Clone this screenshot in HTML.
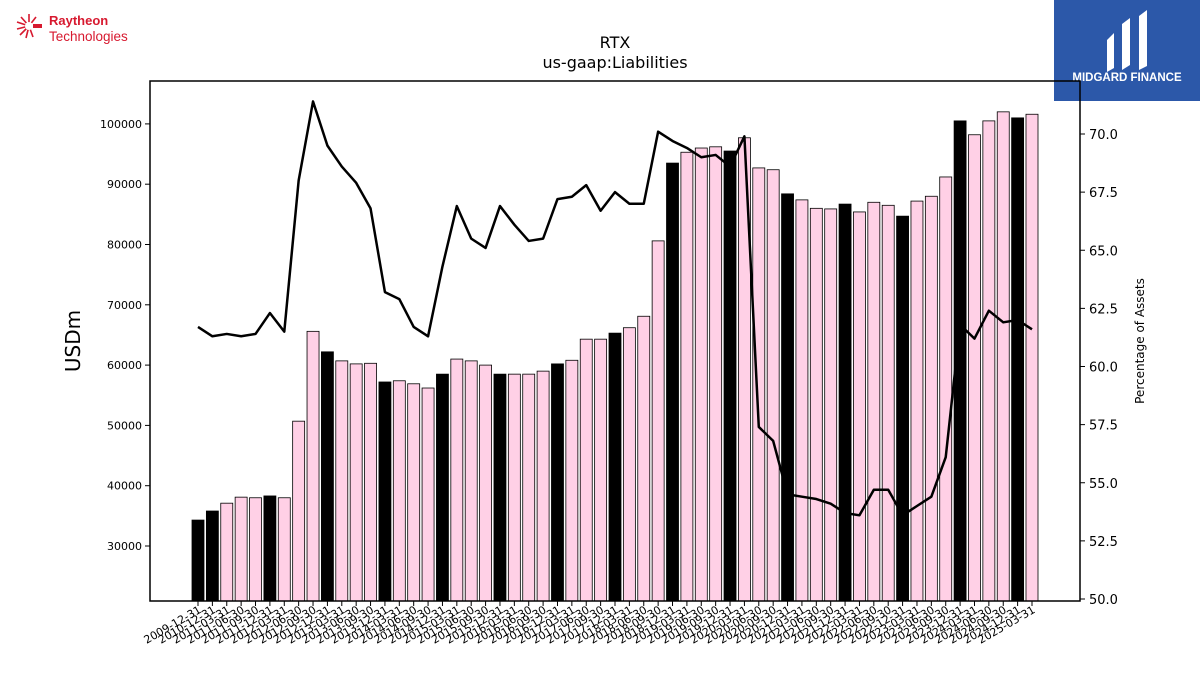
<!DOCTYPE html>
<html><head><meta charset="utf-8"><style>
body{margin:0;background:#fff;font-family:"Liberation Sans","DejaVu Sans",sans-serif;}
</style></head><body>
<svg width="1200" height="675" viewBox="0 0 1200 675" xmlns="http://www.w3.org/2000/svg" font-family="DejaVu Sans, Liberation Sans, sans-serif">
<g>
  <g stroke="#d7192f" stroke-width="1.6">
    <line x1="29" y1="26" x2="29" y2="14"/><line x1="29" y1="26" x2="21" y2="17"/><line x1="29" y1="26" x2="17" y2="22"/><line x1="29" y1="26" x2="17" y2="29"/><line x1="29" y1="26" x2="20" y2="35"/><line x1="29" y1="26" x2="26" y2="38"/><line x1="29" y1="26" x2="33" y2="37"/><line x1="29" y1="26" x2="36" y2="17"/>
  </g>
  <circle cx="29" cy="26" r="4" fill="#fff"/>
  <rect x="33" y="24" width="9" height="4" fill="#d7192f"/>
  <text x="49" y="25" font-size="13" font-weight="bold" fill="#d7192f" font-family="Liberation Sans, sans-serif">Raytheon</text>
  <text x="49" y="41" font-size="13.5" fill="#d7192f" font-family="Liberation Sans, sans-serif">Technologies</text>
</g>
<g>
  <rect x="1054" y="0" width="146" height="101" fill="#2c58a9"/>
  <path d="M1107 40 L1114 33 L1114 68 L1107 72 Z M1122 24 L1130 18 L1130 65 L1122 70 Z M1139 16 L1147 10 L1147 66 L1139 70 Z" fill="#fff"/>
  <text x="1127" y="81" font-size="11.5" font-weight="bold" fill="#fff" text-anchor="middle" font-family="Liberation Sans, sans-serif">MIDGARD FINANCE</text>
</g>
<text x="615" y="48" font-size="16" text-anchor="middle">RTX</text>
<text x="615" y="68" font-size="16" text-anchor="middle">us-gaap:Liabilities</text>
<g id="bars"></g>
<g id="line"></g>
<rect x="150" y="81" width="930" height="520" fill="none" stroke="#000" stroke-width="1.5"/>
<g id="yl"></g>
<g id="yr"></g>
<g id="xa"></g>
<text transform="translate(80,341) rotate(-90)" font-size="20" text-anchor="middle">USDm</text>
<text transform="translate(1144,341) rotate(-90)" font-size="12" text-anchor="middle">Percentage of Assets</text>
</svg>
<script>
const dates=["2009-12-31","2010-12-31","2011-03-31","2011-06-30","2011-09-30","2011-12-31","2012-03-31","2012-06-30","2012-09-30","2012-12-31","2013-03-31","2013-06-30","2013-09-30","2013-12-31","2014-03-31","2014-06-30","2014-09-30","2014-12-31","2015-03-31","2015-06-30","2015-09-30","2015-12-31","2016-03-31","2016-06-30","2016-09-30","2016-12-31","2017-03-31","2017-06-30","2017-09-30","2017-12-31","2018-03-31","2018-06-30","2018-09-30","2018-12-31","2019-03-31","2019-06-30","2019-09-30","2019-12-31","2020-03-31","2020-06-30","2020-09-30","2020-12-31","2021-03-31","2021-06-30","2021-09-30","2021-12-31","2022-03-31","2022-06-30","2022-09-30","2022-12-31","2023-03-31","2023-06-30","2023-09-30","2023-12-31","2024-03-31","2024-06-30","2024-09-30","2024-12-31","2025-03-31"];
const liabilities=[34300,35800,37100,38100,38000,38300,38000,50700,65600,62200,60700,60200,60300,57200,57400,56900,56200,58500,61000,60700,60000,58500,58500,58500,59000,60200,60800,64300,64300,65300,66200,68100,80600,93500,95300,96000,96200,95500,97700,92700,92400,88400,87400,86000,85900,86700,85400,87000,86500,84700,87200,88000,91200,100500,98200,100500,102000,101000,101600];
const pctAssets=[61.7,61.3,61.4,61.3,61.4,62.3,61.5,68.0,71.4,69.5,68.6,67.9,66.8,63.2,62.9,61.7,61.3,64.3,66.9,65.5,65.1,66.9,66.1,65.4,65.5,67.2,67.3,67.8,66.7,67.5,67.0,67.0,70.1,69.7,69.4,69.0,69.1,68.6,69.9,57.4,56.8,54.5,54.4,54.3,54.1,53.7,53.6,54.7,54.7,53.6,54.0,54.4,56.1,61.8,61.2,62.4,61.9,62.0,61.6];
const leftTicks=[30000,40000,50000,60000,70000,80000,90000,100000];
const rightTicks=[50.0,52.5,55.0,57.5,60.0,62.5,65.0,67.5,70.0];
const NS="http://www.w3.org/2000/svg";
const yL=v=>546-(v-30000)/10000*60.3;
const yR=v=>599-(v-50)*23.25;
const n=dates.length;
const xS=i=>198+i*(1032-198)/(n-1);
const bottom=601;
function mk(t,a,p){const e=document.createElementNS(NS,t);for(const k in a)e.setAttribute(k,a[k]);p.appendChild(e);return e;}
const bars=document.getElementById('bars');
dates.forEach((d,i)=>{
  const y=yL(liabilities[i]);
  const r=mk('rect',{x:xS(i)-6,y:y,width:12,height:bottom-y,fill:d.endsWith('12-31')?'#000':'#ffd0e6',stroke:'#000','stroke-width':0.8},bars);
  
  
});
const lg=document.getElementById('line');
const pl=mk('polyline',{points:pctAssets.map((v,i)=>xS(i)+','+yR(v)).join(' '),fill:'none',stroke:'#000','stroke-width':2.5,'stroke-linejoin':'round'},lg);


const yl=document.getElementById('yl');
leftTicks.forEach(v=>{const y=yL(v);mk('line',{x1:145,x2:150,y1:y,y2:y,stroke:'#000'},yl);
  const t=mk('text',{x:142,y:y+4,'font-size':11,'text-anchor':'end'},yl);t.textContent=v;
  
  });
const yr=document.getElementById('yr');
rightTicks.forEach(v=>{const y=yR(v);mk('line',{x1:1080,x2:1085,y1:y,y2:y,stroke:'#000'},yr);
  const t=mk('text',{x:1089,y:y+5,'font-size':13},yr);t.textContent=v.toFixed(1);
  
  });
const xa=document.getElementById('xa');
dates.forEach((d,i)=>{const x=xS(i);mk('line',{x1:x,x2:x,y1:601,y2:606,stroke:'#000'},xa);
  const t=mk('text',{transform:`translate(${x+4},612) rotate(-30)`,'font-size':11,'text-anchor':'end'},xa);t.textContent=d;
  
  });
</script>
</body></html>
